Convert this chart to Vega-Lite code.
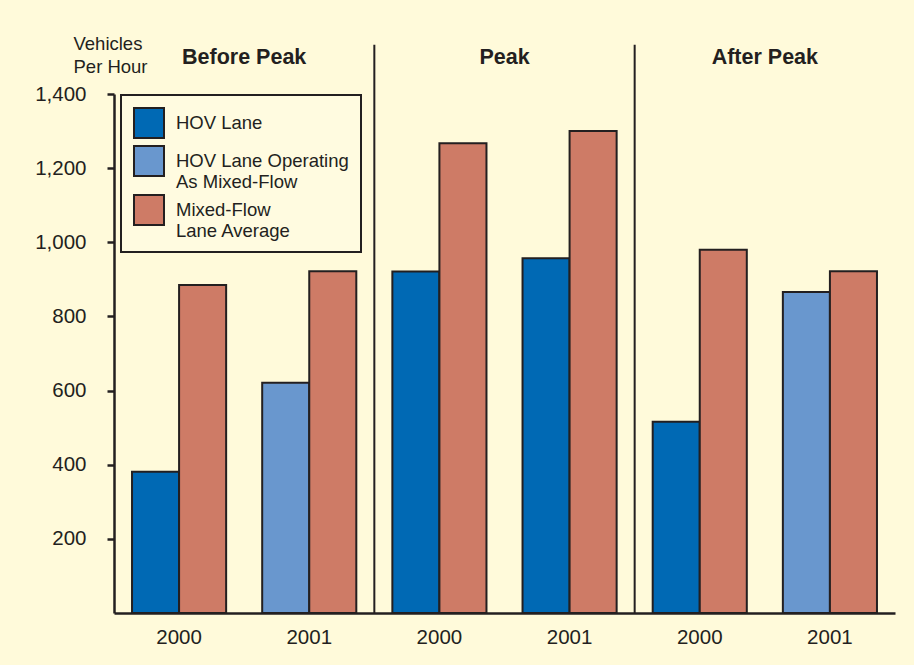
{
  "$schema": "https://vega.github.io/schema/vega-lite/v6.json",
  "autosize": {"type": "none"},
  "width": 781,
  "height": 519,
  "padding": {"left": 114, "top": 94, "right": 19, "bottom": 52},
  "background": "#FFFADA",
  "config": {
    "font": "Liberation Sans",
    "view": {"stroke": null},
    "legend": {
      "orient": "none",
      "legendX": 7,
      "legendY": 1,
      "padding": 12,
      "strokeColor": "#231F20",
      "strokeWidth": 2,
      "fillColor": "#FFFBE0",
      "symbolType": "square",
      "symbolSize": 900,
      "symbolStrokeColor": "#231F20",
      "symbolStrokeWidth": 2,
      "symbolOpacity": 1,
      "labelFontSize": 18.5,
      "labelColor": "#231F20",
      "labelOffset": 11,
      "labelLimit": 300,
      "rowPadding": 0
    }
  },
  "datasets": {
    "bars": [
      {"period": "Before Peak", "year": "2000", "group": "Before Peak 2000", "lane": "HOV", "series": "HOV Lane", "value": 381},
      {"period": "Before Peak", "year": "2000", "group": "Before Peak 2000", "lane": "Mixed", "series": "Mixed-Flow Lane Average", "value": 885},
      {"period": "Before Peak", "year": "2001", "group": "Before Peak 2001", "lane": "HOV", "series": "HOV Lane Operating As Mixed-Flow", "value": 621},
      {"period": "Before Peak", "year": "2001", "group": "Before Peak 2001", "lane": "Mixed", "series": "Mixed-Flow Lane Average", "value": 922},
      {"period": "Peak", "year": "2000", "group": "Peak 2000", "lane": "HOV", "series": "HOV Lane", "value": 921},
      {"period": "Peak", "year": "2000", "group": "Peak 2000", "lane": "Mixed", "series": "Mixed-Flow Lane Average", "value": 1267},
      {"period": "Peak", "year": "2001", "group": "Peak 2001", "lane": "HOV", "series": "HOV Lane", "value": 957},
      {"period": "Peak", "year": "2001", "group": "Peak 2001", "lane": "Mixed", "series": "Mixed-Flow Lane Average", "value": 1300},
      {"period": "After Peak", "year": "2000", "group": "After Peak 2000", "lane": "HOV", "series": "HOV Lane", "value": 516},
      {"period": "After Peak", "year": "2000", "group": "After Peak 2000", "lane": "Mixed", "series": "Mixed-Flow Lane Average", "value": 980},
      {"period": "After Peak", "year": "2001", "group": "After Peak 2001", "lane": "HOV", "series": "HOV Lane Operating As Mixed-Flow", "value": 866},
      {"period": "After Peak", "year": "2001", "group": "After Peak 2001", "lane": "Mixed", "series": "Mixed-Flow Lane Average", "value": 922}
    ],
    "periods": [
      {"period": "Before Peak"},
      {"period": "Peak"},
      {"period": "After Peak"}
    ]
  },
  "layer": [
    {
      "data": {"name": "bars"},
      "mark": {"type": "bar", "stroke": "#231F20", "strokeWidth": 2},
      "encoding": {
        "x": {
          "field": "group",
          "type": "nominal",
          "sort": ["Before Peak 2000", "Before Peak 2001", "Peak 2000", "Peak 2001", "After Peak 2000", "After Peak 2001"],
          "scale": {"paddingInner": 0.277, "paddingOuter": 0.1385},
          "axis": {
            "title": null,
            "labelExpr": "substring(datum.label, length(datum.label) - 4)",
            "labelAngle": 0,
            "labelFontSize": 20.5,
            "labelColor": "#231F20",
            "labelPadding": 14,
            "ticks": false,
            "domainColor": "#231F20",
            "domainWidth": 2.5
          }
        },
        "xOffset": {
          "field": "lane",
          "type": "nominal",
          "sort": ["HOV", "Mixed"],
          "scale": {"paddingInner": 0, "paddingOuter": 0}
        },
        "y": {
          "field": "value",
          "type": "quantitative",
          "scale": {"domain": [0, 1400], "nice": false},
          "axis": {
            "values": [200, 400, 600, 800, 1000, 1200, 1400],
            "grid": false,
            "tickSize": 7,
            "tickWidth": 2.5,
            "tickColor": "#231F20",
            "domainColor": "#231F20",
            "domainWidth": 2.5,
            "labelFontSize": 20.5,
            "labelColor": "#231F20",
            "labelPadding": 21,
            "title": ["Vehicles", "Per Hour"],
            "titleAngle": 0,
            "titleAlign": "left",
            "titleBaseline": "top",
            "titleX": -41,
            "titleY": -60,
            "titleFontSize": 18.5,
            "titleFontWeight": "normal",
            "titleColor": "#231F20",
            "titleLineHeight": 23
          }
        },
        "color": {
          "field": "series",
          "type": "nominal",
          "scale": {
            "domain": ["HOV Lane", "HOV Lane Operating As Mixed-Flow", "Mixed-Flow Lane Average"],
            "range": ["#0069B4", "#6997CE", "#CE7B66"]
          },
          "legend": {
            "title": null,
            "labelExpr": "datum.label == 'HOV Lane Operating As Mixed-Flow' ? ['HOV Lane Operating', 'As Mixed-Flow'] : datum.label == 'Mixed-Flow Lane Average' ? ['Mixed-Flow', 'Lane Average'] : datum.label"
          }
        }
      }
    },
    {
      "data": {"name": "periods"},
      "transform": [{"filter": "datum.period != 'Before Peak'"}],
      "mark": {"type": "rule", "stroke": "#231F20", "strokeWidth": 2},
      "encoding": {
        "x": {
          "field": "period",
          "type": "nominal",
          "bandPosition": 0,
          "scale": {"domain": ["Before Peak", "Peak", "After Peak"], "paddingInner": 0, "paddingOuter": 0},
          "axis": null
        },
        "y": {"datum": 0, "type": "quantitative"},
        "y2": {"datum": 1533}
      }
    },
    {
      "data": {"name": "periods"},
      "mark": {"type": "text", "fontSize": 21.5, "fontWeight": "bold", "color": "#231F20", "baseline": "middle"},
      "encoding": {
        "x": {
          "field": "period",
          "type": "nominal",
          "scale": {"domain": ["Before Peak", "Peak", "After Peak"], "paddingInner": 0, "paddingOuter": 0},
          "axis": null
        },
        "y": {"datum": 1497, "type": "quantitative"},
        "text": {"field": "period"}
      }
    }
  ],
  "resolve": {"scale": {"x": "independent"}}
}
